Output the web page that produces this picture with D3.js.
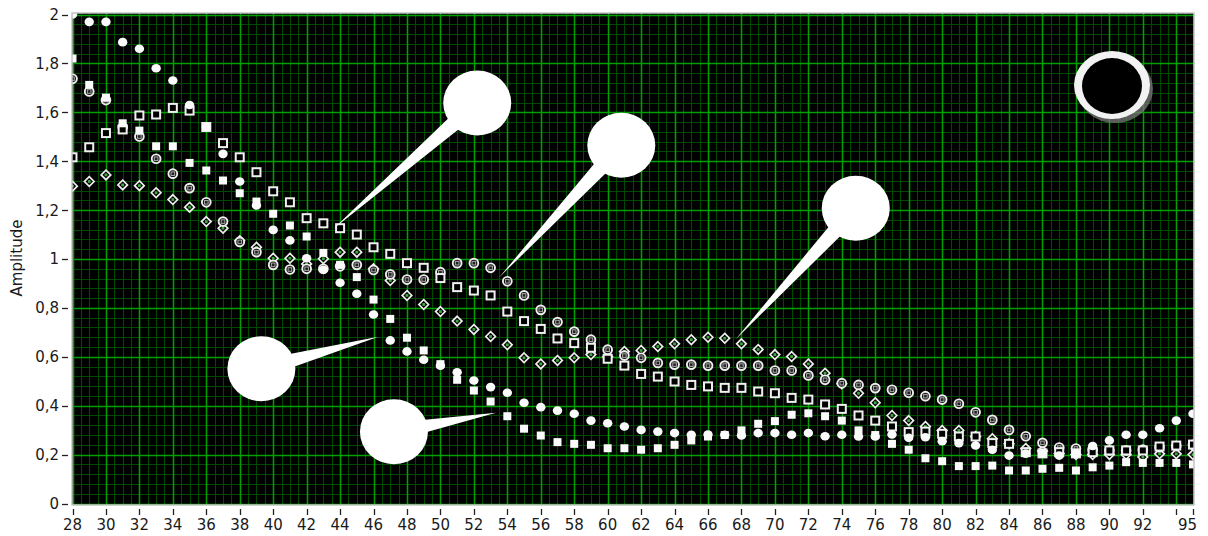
<!DOCTYPE html>
<html><head><meta charset="utf-8">
<script src="https://cdn.jsdelivr.net/npm/d3@7/dist/d3.min.js"></script>
<style>html,body{margin:0;padding:0;background:#fff;}svg{display:block}</style>
</head><body>
<svg id="chart" width="1208" height="536"></svg>
<script>
// ---------- DATA ----------
const xValues = [28,29,30,31,32,33,34,35,36,37,38,39,40,41,42,43,44,45,46,47,48,49,50,51,52,53,54,55,56,57,58,59,60,61,62,63,64,65,66,67,68,69,70,71,72,73,74,75,76,77,78,79,80,81,82,83,84,85,86,87,88,89,90,91,92,93,94,95];

const circleSeries = [2.0,1.97,1.97,1.887,1.86,1.78,1.73,1.63,1.54,1.43,1.317,1.219,1.119,1.076,1.003,0.956,0.903,0.858,0.773,0.667,0.622,0.588,0.564,0.537,0.503,0.476,0.453,0.412,0.394,0.38,0.367,0.339,0.328,0.315,0.301,0.294,0.288,0.281,0.282,0.281,0.278,0.288,0.288,0.281,0.288,0.275,0.281,0.274,0.274,0.282,0.269,0.271,0.255,0.247,0.237,0.22,0.196,0.204,0.205,0.196,0.205,0.235,0.258,0.281,0.281,0.308,0.339,0.367];

const filledSquareSeries = [1.82,1.712,1.66,1.555,1.525,1.461,1.461,1.393,1.362,1.321,1.269,1.235,1.185,1.137,1.092,1.025,0.976,0.926,0.834,0.755,0.678,0.626,0.57,0.506,0.462,0.417,0.357,0.306,0.278,0.251,0.244,0.24,0.226,0.226,0.22,0.226,0.24,0.258,0.274,0.28,0.299,0.326,0.337,0.363,0.369,0.357,0.339,0.299,0.28,0.244,0.22,0.185,0.173,0.153,0.153,0.155,0.135,0.135,0.142,0.146,0.135,0.148,0.155,0.169,0.166,0.166,0.166,0.16];

const hollowSquareSeries = [1.416,1.457,1.515,1.53,1.587,1.591,1.618,1.607,1.54,1.474,1.416,1.355,1.277,1.232,1.167,1.146,1.126,1.10,1.048,1.021,0.983,0.964,0.922,0.885,0.871,0.851,0.785,0.746,0.714,0.675,0.656,0.637,0.592,0.564,0.53,0.519,0.499,0.485,0.479,0.473,0.473,0.458,0.451,0.432,0.425,0.405,0.387,0.36,0.339,0.315,0.292,0.294,0.285,0.274,0.274,0.247,0.244,0.21,0.205,0.21,0.205,0.21,0.217,0.217,0.217,0.233,0.237,0.241];

const ringSeries = [1.737,1.685,1.65,1.54,1.501,1.41,1.349,1.29,1.232,1.153,1.07,1.028,0.976,0.957,0.96,0.96,0.97,0.976,0.955,0.937,0.916,0.916,0.946,0.983,0.983,0.964,0.909,0.851,0.792,0.742,0.703,0.67,0.629,0.605,0.596,0.575,0.568,0.568,0.564,0.564,0.564,0.564,0.544,0.544,0.524,0.506,0.492,0.485,0.472,0.465,0.453,0.439,0.425,0.408,0.373,0.342,0.301,0.275,0.248,0.229,0.225,0.22,0.217,0.217,0.22,0.23,0.235,0.24];

const diamondSeries = [1.298,1.317,1.344,1.303,1.30,1.271,1.243,1.212,1.153,1.126,1.075,1.048,1.003,1.003,0.98,1.001,1.028,1.028,0.96,0.912,0.851,0.814,0.785,0.746,0.712,0.683,0.649,0.596,0.571,0.585,0.596,0.609,0.60,0.622,0.626,0.642,0.653,0.67,0.68,0.676,0.653,0.63,0.609,0.601,0.571,0.533,0.49,0.451,0.412,0.36,0.339,0.315,0.299,0.299,0.274,0.265,0.244,0.225,0.215,0.205,0.2,0.2,0.2,0.2,0.19,0.203,0.203,0.2];

const yTickValues = [0,0.2,0.4,0.6,0.8,1,1.2,1.4,1.6,1.8,2];
const yTickLabels = ["0","0,2","0,4","0,6","0,8","1","1,2","1,4","1,6","1,8","2"];
const xTickValues = [28,30,32,34,36,38,40,42,44,46,48,50,52,54,56,58,60,62,64,66,68,70,72,74,76,78,80,82,84,86,88,90,92,94,95];
const xTickLabels = ["28","30","32","34","36","38","40","42","44","46","48","50","52","54","56","58","60","62","64","66","68","70","72","74","76","78","80","82","84","86","88","90","92","","95"];
const yAxisTitle = "Amplitude";

// annotation balloon tips (data coordinates)
const calloutTipX = [43.59, 53.52, 67.66, 46.29, 53.32];
const calloutTipY = [1.123, 0.925, 0.672, 0.682, 0.371];

// ---------- LAYOUT ----------
const W = 1208, H = 536;
const plot = {left: 72, top: 13, right: 1194, bottom: 505};
const balloonOffsets = [[144,-126],[122,-132],[120,-131],[-117,32],[-102,19]];

const svg = d3.select("#chart");
const x = d3.scaleLinear().domain([28,95]).range([72.5,1193]);
const y = d3.scaleLinear().domain([0,2]).range([503.5,14.5]);

svg.append("rect").attr("width",W).attr("height",H).attr("fill","#fff");

svg.append("defs").append("clipPath").attr("id","clip")
  .append("rect").attr("x",plot.left).attr("y",plot.top)
  .attr("width",plot.right-plot.left).attr("height",plot.bottom-plot.top);

// plot background
svg.append("rect").attr("x",plot.left).attr("y",plot.top)
  .attr("width",plot.right-plot.left).attr("height",plot.bottom-plot.top)
  .attr("fill","#000");

const gGrid = svg.append("g").attr("clip-path","url(#clip)");
const xMinor = d3.range(28, 95.001, 0.5);
const yMinor = d3.range(0, 2.0001, 0.04);
gGrid.selectAll("line.xm").data(xMinor).join("line")
  .attr("x1",d=>Math.round(x(d))+0.5).attr("x2",d=>Math.round(x(d))+0.5)
  .attr("y1",plot.top).attr("y2",plot.bottom)
  .attr("stroke","#004a00").attr("stroke-width",1.1);
gGrid.selectAll("line.ym").data(yMinor).join("line")
  .attr("y1",d=>Math.round(y(d))+0.5).attr("y2",d=>Math.round(y(d))+0.5)
  .attr("x1",plot.left).attr("x2",plot.right)
  .attr("stroke","#004a00").attr("stroke-width",1.1);
gGrid.selectAll("line.xM").data(xTickValues.filter(v=>v%2===0)).join("line")
  .attr("x1",d=>Math.round(x(d))+0.5).attr("x2",d=>Math.round(x(d))+0.5)
  .attr("y1",plot.top).attr("y2",plot.bottom)
  .attr("stroke","#00a000").attr("stroke-width",1.5);
gGrid.selectAll("line.yM").data(yTickValues).join("line")
  .attr("y1",d=>Math.round(y(d))+0.5).attr("y2",d=>Math.round(y(d))+0.5)
  .attr("x1",plot.left).attr("x2",plot.right)
  .attr("stroke","#00a000").attr("stroke-width",1.5);

// markers
const gM = svg.append("g").attr("clip-path","url(#clip)");
function pts(arr){ return arr.map((v,i)=>({x:xValues[i], v})); }

// diamonds
const gD = gM.append("g");
gD.selectAll("path").data(pts(diamondSeries)).join("path")
  .attr("d",d=>{const cx=x(d.x), cy=y(d.v), r=4.8; return `M${cx},${cy-r}L${cx+r},${cy}L${cx},${cy+r}L${cx-r},${cy}Z`;})
  .attr("fill","#000").attr("stroke","#eeeeee").attr("stroke-width",1.7);
gD.selectAll("rect").data(pts(diamondSeries)).join("rect")
  .attr("x",d=>x(d.x)-1.4).attr("y",d=>y(d.v)-1.4).attr("width",2.8).attr("height",2.8)
  .attr("fill","#3faa3f");

// rings (circle with dot)
const gR = gM.append("g");
gR.selectAll("circle").data(pts(ringSeries)).join("circle")
  .attr("cx",d=>x(d.x)).attr("cy",d=>y(d.v)).attr("r",4.4)
  .attr("fill","#111").attr("stroke","#eeeeee").attr("stroke-width",1.9);
gR.selectAll("rect").data(pts(ringSeries)).join("rect")
  .attr("x",d=>x(d.x)-1.8).attr("y",d=>y(d.v)-1.8).attr("width",3.6).attr("height",3.6)
  .attr("fill","#222").attr("stroke","#a8a8a8").attr("stroke-width",1);

// hollow squares
gM.append("g").selectAll("rect").data(pts(hollowSquareSeries)).join("rect")
  .attr("x",d=>x(d.x)-4).attr("y",d=>y(d.v)-4).attr("width",8).attr("height",8)
  .attr("fill","#000").attr("stroke","#f0f0f0").attr("stroke-width",2);

// filled squares
gM.append("g").selectAll("rect").data(pts(filledSquareSeries)).join("rect")
  .attr("x",d=>x(d.x)-4).attr("y",d=>y(d.v)-4).attr("width",8).attr("height",8)
  .attr("fill","#fafafa");

// filled circles
gM.append("g").selectAll("ellipse").data(pts(circleSeries)).join("ellipse")
  .attr("cx",d=>x(d.x)).attr("cy",d=>y(d.v)).attr("rx",4.7).attr("ry",4.3)
  .attr("fill","#fafafa");

// callout balloons
const gC = svg.append("g").attr("clip-path","url(#clip)");
calloutTipX.forEach((tx,i)=>{
  const px = x(tx), py = y(calloutTipY[i]);
  const cx = px + balloonOffsets[i][0], cy = py + balloonOffsets[i][1];
  const dx = cx-px, dy = cy-py, L = Math.hypot(dx,dy);
  const nx = -dy/L*9, ny = dx/L*9;
  gC.append("path")
    .attr("d",`M${px},${py}L${cx+nx},${cy+ny}L${cx-nx},${cy-ny}Z`)
    .attr("fill","#fff");
  gC.append("ellipse").attr("cx",cx).attr("cy",cy).attr("rx",34).attr("ry",32.5)
    .attr("fill","#fff");
});

// black cursor knob (top right)
const knob = svg.append("g");
knob.append("ellipse").attr("cx",1115).attr("cy",89).attr("rx",38).attr("ry",34).attr("fill","#7a7a7a").attr("opacity",0.75);
knob.append("ellipse").attr("cx",1112).attr("cy",85).attr("rx",38).attr("ry",34).attr("fill","#f2f2f2");
knob.append("ellipse").attr("cx",1112).attr("cy",86).attr("rx",30).attr("ry",28).attr("fill","#000");

// plot border
svg.append("rect").attr("x",plot.left).attr("y",plot.top)
  .attr("width",plot.right-plot.left).attr("height",plot.bottom-plot.top)
  .attr("fill","none").attr("stroke","#c4c4c4").attr("stroke-width",1.5);

// y axis
const gy = svg.append("g");
gy.selectAll("line").data(yTickValues).join("line")
  .attr("x1",62).attr("x2",68).attr("y1",d=>Math.round(y(d))+0.5).attr("y2",d=>Math.round(y(d))+0.5)
  .attr("stroke","#222").attr("stroke-width",1.3);
gy.selectAll("text").data(yTickValues).join("text")
  .attr("x",59).attr("y",d=>y(d)).attr("dy","0.36em")
  .attr("text-anchor","end").attr("font-family","DejaVu Sans").attr("font-size",15)
  .attr("fill","#1a1a1a").text((d,i)=>yTickLabels[i]);

// x axis
const gx = svg.append("g");
gx.selectAll("line").data(xTickValues).join("line")
  .attr("x1",d=>Math.round(x(d))+0.5).attr("x2",d=>Math.round(x(d))+0.5).attr("y1",509).attr("y2",515)
  .attr("stroke","#222").attr("stroke-width",1.3);
gx.selectAll("text").data(xTickValues).join("text")
  .attr("x",d=>x(d)).attr("y",530)
  .attr("text-anchor",(d,i)=> i===xTickValues.length-1 ? "end" : "middle")
  .attr("dx",(d,i)=> i===xTickValues.length-1 ? 4 : 0)
  .attr("font-family","DejaVu Sans").attr("font-size",15)
  .attr("fill","#1a1a1a").text((d,i)=>xTickLabels[i]);

svg.append("text").attr("transform","translate(22,258) rotate(-90)")
  .attr("text-anchor","middle").attr("font-family","DejaVu Sans").attr("font-size",15)
  .attr("fill","#1a1a1a").text(yAxisTitle);
</script>
</body></html>
